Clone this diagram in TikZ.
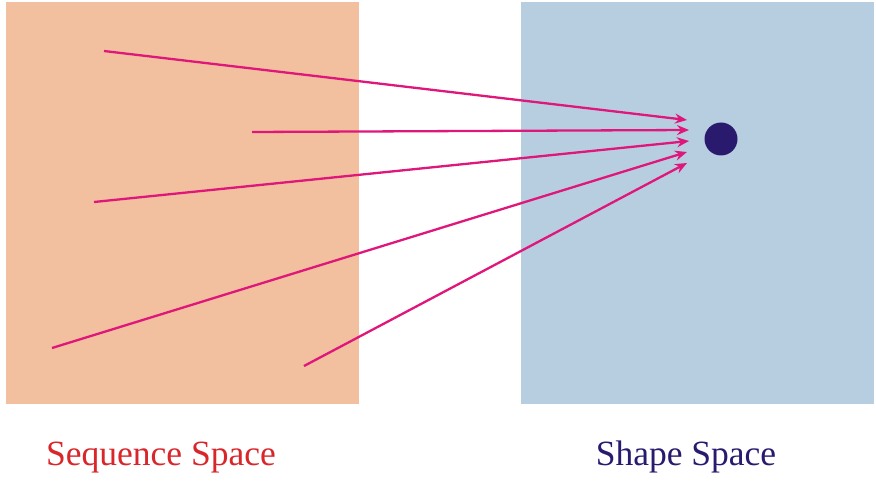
\documentclass[tikz,border=0pt]{standalone}
\usepackage{fontspec}
\setmainfont{Liberation Serif}
\usepackage{tikz}
\usetikzlibrary{positioning, arrows.meta}
\definecolor{seqFill}{HTML}{F2C09E}
\definecolor{shpFill}{HTML}{B7CEE1}
\definecolor{mMagenta}{HTML}{E0177A}
\definecolor{mNavy}{HTML}{2A1A6E}
\definecolor{mRed}{HTML}{D8262B}

\begin{document}
\begin{tikzpicture}[x=1pt, y=-1pt,
  space/.style={draw=none, minimum width=353pt, minimum height=402pt, inner sep=0pt},
  mapping/.style={-{Stealth[length=12pt, width=10pt, inset=4pt]}, line width=2.3pt, mMagenta},
  caption/.style={anchor=base, font=\fontsize{35.5}{42}\selectfont},
]
  \useasboundingbox (0,0) rectangle (876,481);
  % the two spaces
  \node[space, fill=seqFill, anchor=north west] (seq) at (6,2) {};
  \node[space, fill=shpFill, anchor=north west] (shp) at (521,2) {};
  \node[circle, fill=mNavy, minimum size=33pt, inner sep=0pt] (fold) at (721,139) {};

  % sequences
  \coordinate (s1) at (104,51);
  \coordinate (s2) at (252,132);
  \coordinate (s3) at (94,202);
  \coordinate (s4) at (52,348);
  \coordinate (s5) at (304,366);
  % arrow tips in front of the fold
  \coordinate (t1) at (687,120);
  \coordinate (t2) at (689,130);
  \coordinate (t3) at (689,141);
  \coordinate (t4) at (687,152);
  \coordinate (t5) at (687,163);
  \foreach \i in {1,...,5}
    \draw[mapping] (s\i) -- (t\i);

  \node[caption, text=mRed] (seqlabel) at (161,465) {Sequence Space};
  \node[caption, text=mNavy] (shplabel) at (686,465) {Shape Space};
\end{tikzpicture}
\end{document}
